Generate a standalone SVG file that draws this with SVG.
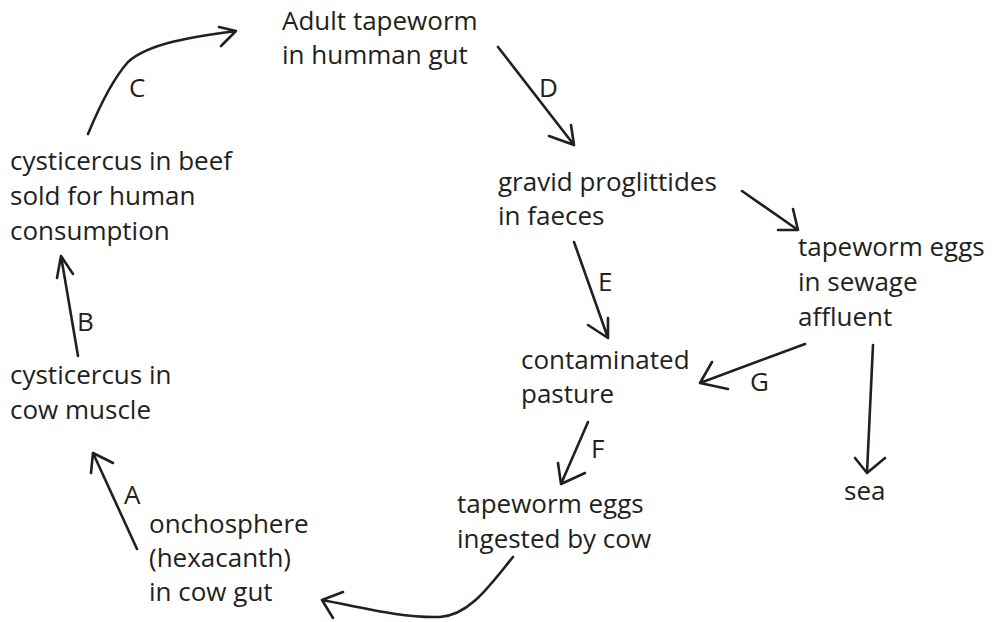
<svg xmlns="http://www.w3.org/2000/svg" width="994" height="622" viewBox="0 0 994 622">
<style>
text{font-family:"Open Sans","Noto Sans",sans-serif;font-size:26px;fill:#231f20}
.lbl{font-size:26px}
.c{fill:none;stroke:#231f20;stroke-width:2.6;stroke-linecap:round;stroke-linejoin:round}
</style>
<rect width="994" height="622" fill="#fff"/>
<g id="adult"><text x="282" y="30">Adult tapeworm</text><text x="282" y="64">in humman gut</text></g>
<g id="beef"><text x="10" y="170">cysticercus in beef</text><text x="10" y="205">sold for human</text><text x="10" y="240">consumption</text></g>
<g id="muscle"><text x="10" y="384">cysticercus in</text><text x="10" y="419">cow muscle</text></g>
<g id="onchosphere"><text x="149" y="533">onchosphere</text><text x="149" y="567">(hexacanth)</text><text x="149" y="601">in cow gut</text></g>
<g id="gravid"><text x="498" y="191">gravid proglittides</text><text x="498" y="225">in faeces</text></g>
<g id="sewage"><text x="798" y="256">tapeworm eggs</text><text x="798" y="291">in sewage</text><text x="798" y="326">affluent</text></g>
<g id="pasture"><text x="521" y="369">contaminated</text><text x="521" y="403">pasture</text></g>
<g id="ingested"><text x="457" y="513">tapeworm eggs</text><text x="457" y="548">ingested by cow</text></g>
<g id="sea"><text x="844" y="500">sea</text></g>
<g id="connectors">
<path class="c" d="M88,134 C100,105 112,80 128,62 C150,42 200,36 236,31 M219,27 L236,31 L221,46"/>
<path class="c" d="M498,47 L574,145 M549,136 L574,145 L571,125"/>
<path class="c" d="M742,191 L798,230 M778,230 L798,230 L793,209"/>
<path class="c" d="M574,242 L608,338 M588,325 L608,338 L608,318"/>
<path class="c" d="M805,344 L700,383 M712,362 L700,383 L728,389"/>
<path class="c" d="M873,345 L867,473 M855,458 L867,473 L885,458"/>
<path class="c" d="M588,422 L561,484 M558,463 L561,484 L585,473"/>
<path class="c" d="M513,557 C490,585 470,615 440,617 C400,618 360,607 322,600 M343,592 L322,600 L333,618"/>
<path class="c" d="M137,549 L93,453 M91,473 L93,453 L113,463"/>
<path class="c" d="M78,356 L61,256 M57,278 L61,256 L73,274"/>
<text class="lbl" x="129" y="97">C</text>
<text class="lbl" x="539" y="97">D</text>
<text class="lbl" x="598" y="291">E</text>
<text class="lbl" x="77" y="331">B</text>
<text class="lbl" x="124" y="504">A</text>
<text class="lbl" x="591" y="458">F</text>
<text class="lbl" x="750" y="391">G</text>
</g>
</svg>
